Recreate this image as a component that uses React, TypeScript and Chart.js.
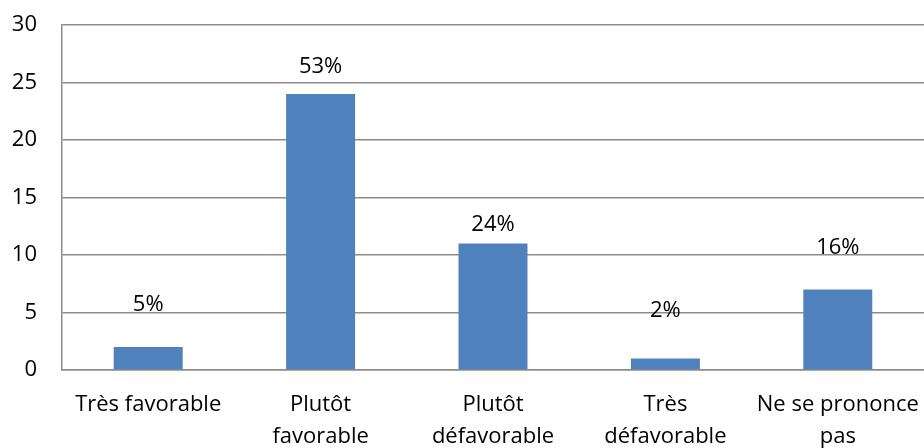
import React, { useEffect, useRef } from "react";
import { Chart, registerables } from "chart.js";

Chart.register(...registerables);

const categories: (string | string[])[] = [
  "Très favorable",
  ["Plutôt", "favorable"],
  ["Plutôt", "défavorable"],
  ["Très", "défavorable"],
  ["Ne se prononce", "pas"],
];
const counts = [2, 24, 11, 1, 7];
const shareLabels = ["5%", "53%", "24%", "2%", "16%"];
// height (in axis units) at which each share label sits
const labelHeights = [5.65, 26.4, 12.6, 5.17, 10.65];
const yTicks = [0, 5, 10, 15, 20, 25, 30];

const FONT = "'Open Sans', sans-serif";
const FONT_SIZE = 22;
const GRID = "#8c8c8c";

const shareLabelPlugin = {
  id: "shareLabels",
  afterDatasetsDraw(chart: Chart) {
    const { ctx, scales } = chart;
    const meta = chart.getDatasetMeta(0);
    ctx.save();
    ctx.font = `${FONT_SIZE}px ${FONT}`;
    ctx.fillStyle = "#000";
    ctx.textAlign = "center";
    ctx.textBaseline = "middle";
    meta.data.forEach((bar: any, i: number) => {
      const y = scales.y.getPixelForValue(labelHeights[i]);
      ctx.fillText(shareLabels[i], bar.x, y);
    });
    ctx.restore();
  },
};

export default function App() {
  const canvasRef = useRef<HTMLCanvasElement>(null);

  useEffect(() => {
    document.body.style.margin = "0";
    const chart = new Chart(canvasRef.current!, {
      type: "bar",
      data: {
        labels: categories,
        datasets: [
          {
            data: counts,
            backgroundColor: "#4F81BD",
            barPercentage: 0.4,
            categoryPercentage: 1,
          },
        ],
      },
      options: {
        animation: false,
        responsive: false,
        layout: { padding: { left: 0, top: 25, right: 0, bottom: 0 } },
        plugins: {
          legend: { display: false },
          tooltip: { enabled: false },
        },
        scales: {
          x: {
            grid: { display: false, drawTicks: false },
            border: { display: true, color: GRID, width: 1.5 },
            ticks: {
              color: "#000",
              font: { family: FONT, size: FONT_SIZE, lineHeight: "32px" },
              padding: 19,
              maxRotation: 0,
              autoSkip: false,
            },
            afterFit: (scale: any) => {
              scale.paddingLeft = 0;
              scale.paddingRight = 0;
              scale.height = 78;
            },
          },
          y: {
            min: 0,
            max: 30,
            afterBuildTicks: (scale: any) => {
              scale.ticks = yTicks.map((v) => ({ value: v }));
            },
            grid: { color: GRID, lineWidth: 1.5, drawTicks: false },
            border: { display: true, color: GRID, width: 1.5 },
            ticks: {
              color: "#000",
              font: { family: FONT, size: FONT_SIZE },
              padding: 25,
            },
            afterFit: (scale: any) => {
              scale.paddingTop = 0;
              scale.paddingBottom = 0;
              scale.width = 62;
            },
          },
        },
      },
      plugins: [shareLabelPlugin],
    });
    return () => chart.destroy();
  }, []);

  return <canvas ref={canvasRef} width={924} height={448} />;
}
